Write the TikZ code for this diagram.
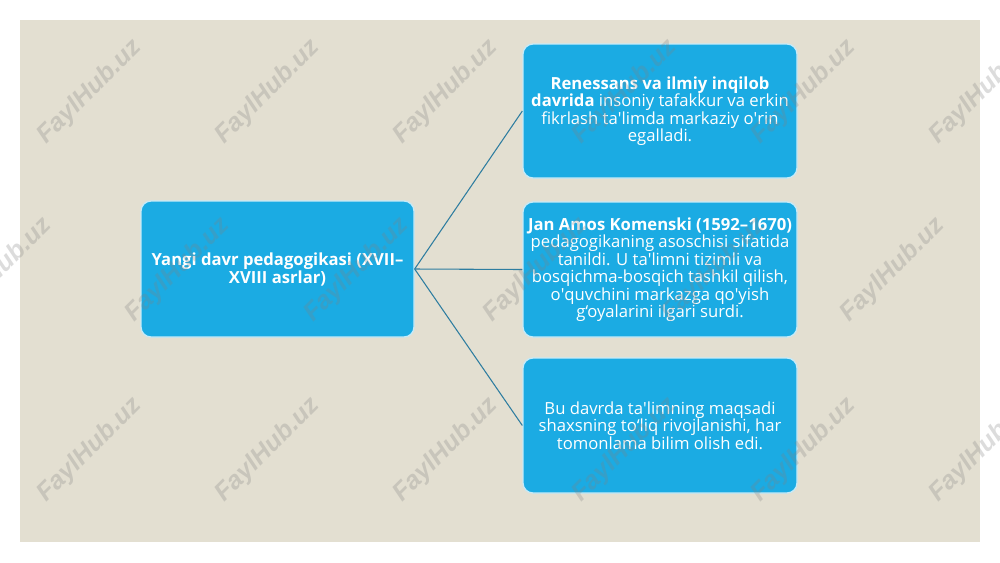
\documentclass[tikz,border=0pt]{standalone}
\usepackage{fontspec}
\setmainfont{Open Sans}
\newfontfamily\wmfont{Liberation Sans}
\definecolor{bgbeige}{RGB}{227,223,209}
\definecolor{boxblue}{RGB}{27,171,227}
\definecolor{linkcol}{RGB}{46,125,160}
\definecolor{wmgray}{RGB}{128,128,128}
\begin{document}
\begin{tikzpicture}[x=0.75pt,y=-0.75pt,
  box/.style={rectangle, rounded corners=7.5pt, fill=boxblue, draw=white!75!boxblue, line width=1pt,
    text=white, align=center, font=\fontsize{12.5}{13.1}\selectfont, inner sep=0pt},
  link/.style={draw=linkcol, line width=0.8pt},
  wm/.style={text=wmgray, opacity=0.27, rotate=45, inner sep=0pt,
    font=\wmfont\bfseries\itshape\fontsize{19}{19}\selectfont}]
\useasboundingbox (0,0) rectangle (1000,562);
\fill[white] (0,0) rectangle (1000,562);
\fill[bgbeige] (20,20) rectangle (980,542);
\node[box, font=\bfseries\fontsize{12.5}{13.5}\selectfont, minimum width=204.75pt, minimum height=102pt] (L) at (277.5,269)
  {Yangi davr pedagogikasi (XVII–\\XVIII asrlar)};
\node[box, minimum width=205.5pt, minimum height=100.5pt] (R1) at (660,111)
  {\textbf{Renessans va ilmiy inqilob}\\\textbf{davrida} insoniy tafakkur va erkin\\fikrlash ta\textquotesingle limda markaziy o\textquotesingle rin\\egalladi.};
\node[box, minimum width=205.5pt, minimum height=101.25pt] (R2) at (660,269.5)
  {\textbf{Jan Amos Komenski (1592–1670)}\\pedagogikaning asoschisi sifatida\\tanildi. U ta\textquotesingle limni tizimli va\\bosqichma-bosqich tashkil qilish,\\o\textquotesingle quvchini markazga qo\textquotesingle yish\\g‘oyalarini ilgari surdi.};
\node[box, minimum width=205.5pt, minimum height=101.25pt] (R3) at (660,425.5)
  {Bu davrda ta\textquotesingle limning maqsadi\\shaxsning to‘liq rivojlanishi, har\\tomonlama bilim olish edi.};
\draw[link] (L.east) -- (R1.west);
\draw[link] (L.east) -- (R2.west);
\draw[link] (L.east) -- (R3.west);
\foreach \x [count=\i] in {90,268,446,625,804,982}{
  \node[wm] (wa\i) at (\x,92) {FaylHub.uz};
  \node[wm] (wc\i) at (\x,450) {FaylHub.uz};
}
\foreach \x [count=\i] in {0,178,357,536,714,893}{
  \node[wm] (wb\i) at (\x,270) {FaylHub.uz};
}
\end{tikzpicture}
\end{document}
